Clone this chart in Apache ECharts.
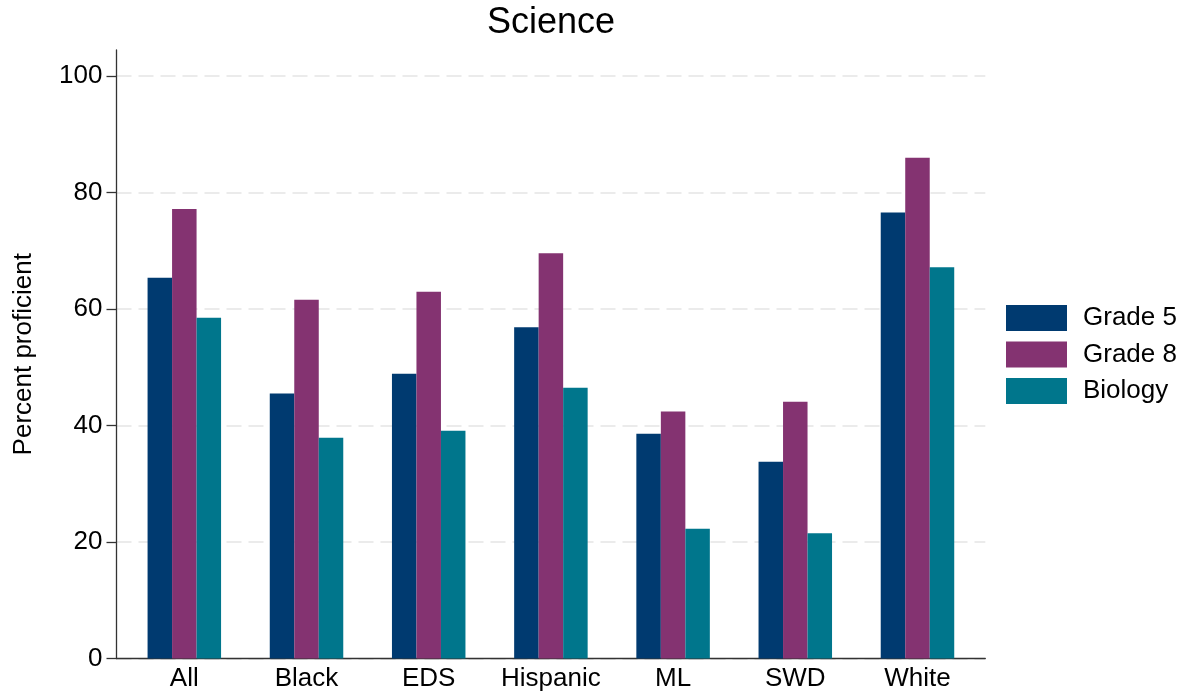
<!DOCTYPE html>
<html>
<head>
<meta charset="utf-8">
<style>
  html, body { margin: 0; padding: 0; background: #fff; }
  #chart { width: 1184px; height: 693px; }
</style>
<script src="https://cdn.jsdelivr.net/npm/echarts@6/dist/echarts.min.js"></script>
</head>
<body>
<div id="chart"></div>
<script>
const categories = ['All', 'Black', 'EDS', 'Hispanic', 'ML', 'SWD', 'White'];
const grade5  = [65.4, 45.5, 48.9, 56.9, 38.6, 33.8, 76.6];
const grade8  = [77.2, 61.6, 63.0, 69.6, 42.4, 44.1, 86.0];
const biology = [58.5, 37.9, 39.1, 46.5, 22.3, 21.5, 67.2];
const yTicks = [0, 20, 40, 60, 80, 100];
const seriesNames = ['Grade 5', 'Grade 8', 'Biology'];
const seriesColors = ['#003a70', '#843371', '#00768c'];

const FONT = '"Liberation Sans", Arial, sans-serif';
const chart = echarts.init(document.getElementById('chart'));

function pairs(vals) { return categories.map((c, i) => [i, vals[i]]); }
const allVals = [grade5, grade8, biology];

chart.setOption({
  animation: false,
  backgroundColor: '#ffffff',
  title: {
    text: 'Science',
    left: 551,
    textAlign: 'center',
    top: 5,
    padding: 0,
    textStyle: { fontFamily: FONT, fontSize: 36, fontWeight: 'normal', color: '#000' }
  },
  legend: {
    orient: 'vertical',
    left: 1001,
    top: 300,
    itemWidth: 61,
    itemHeight: 26,
    itemGap: 10.5,
    icon: 'rect',
    data: seriesNames,
    textStyle: { fontFamily: FONT, fontSize: 26, color: '#000', padding: [0, 0, 0, 11] }
  },
  grid: { left: 116.5, right: 198.7, top: 50, bottom: 34.5, containLabel: false },
  xAxis: {
    type: 'value',
    min: -0.555,
    max: 6.555,
    axisLine: { show: true, onZero: false, lineStyle: { color: '#333', width: 1.3 } },
    axisTick: { show: false },
    splitLine: { show: false },
    axisLabel: {
      customValues: categories.map((c, i) => i),
      formatter: v => categories[Math.round(v)],
      fontFamily: FONT, fontSize: 26, color: '#000', margin: 7
    }
  },
  yAxis: {
    type: 'value',
    min: 0,
    max: 104.5,
    name: 'Percent proficient',
    nameLocation: 'middle',
    nameRotate: 90,
    nameGap: 80,
    nameTextStyle: { fontFamily: FONT, fontSize: 26, color: '#000' },
    axisLine: { show: true, onZero: false, lineStyle: { color: '#333', width: 1.3 } },
    axisTick: { show: true, customValues: yTicks, length: 10, lineStyle: { color: '#333', width: 1.3 } },
    axisLabel: { customValues: yTicks, fontFamily: FONT, fontSize: 26, color: '#000', margin: 14 },
    splitLine: { show: true, lineStyle: { color: '#ebebeb', width: 2, type: [15, 7] } }
  },
  series: seriesNames.map((n, k) => ({
    name: n,
    type: 'bar',
    barWidth: 24.5,
    barGap: '0%',
    itemStyle: { color: seriesColors[k] },
    data: pairs(allVals[k])
  }))
});
</script>
</body>
</html>
